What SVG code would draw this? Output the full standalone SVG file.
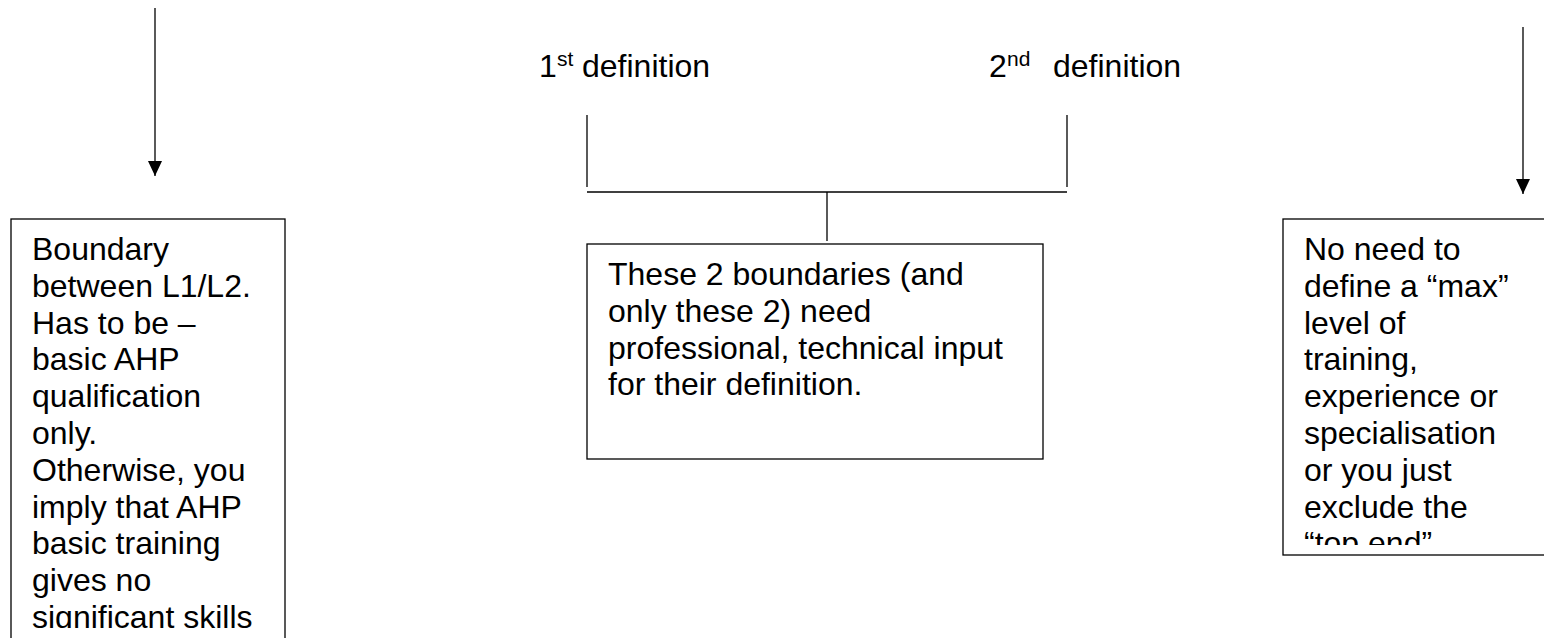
<svg xmlns="http://www.w3.org/2000/svg" width="1544" height="638" viewBox="0 0 1544 638">
  <style>
    .t { font-family: "Liberation Sans", Arial, sans-serif; font-size: 32px; fill: #000; }
    .sup { font-size: 21px; }
    .box { fill: #fff; stroke: #000; stroke-width: 1.3; }
    .ln { fill: none; stroke: #000; stroke-width: 1.3; }
  </style>
  <defs>
    <marker id="arr" viewBox="0 0 15 14" refX="15" refY="7" markerWidth="15" markerHeight="14" markerUnits="userSpaceOnUse" orient="auto">
      <path d="M0,0 L15,7 L0,14 Z" fill="#000"/>
    </marker>
    <clipPath id="clipL"><rect x="12" y="220" width="272" height="408"/></clipPath>
    <clipPath id="clipR"><rect x="1284" y="220" width="260" height="325"/></clipPath>
  </defs>

  <g id="connectors">
    <line class="ln" x1="155" y1="8" x2="155" y2="176" marker-end="url(#arr)"/>
    <line class="ln" x1="1523" y1="27" x2="1523" y2="194" marker-end="url(#arr)"/>
    <line class="ln" x1="587" y1="115" x2="587" y2="187"/>
    <line class="ln" x1="1067" y1="115" x2="1067" y2="187"/>
    <line class="ln" x1="587" y1="192" x2="1067" y2="192"/>
    <line class="ln" x1="827" y1="192" x2="827" y2="241"/>
  </g>

  <g id="label-1st">
    <text class="t" y="77"><tspan x="539">1</tspan><tspan class="sup" x="557" dy="-11">st</tspan><tspan x="582" dy="11">definition</tspan></text>
  </g>
  <g id="label-2nd">
    <text class="t" y="77"><tspan x="989">2</tspan><tspan class="sup" x="1007" dy="-11">nd</tspan><tspan x="1053" dy="11">definition</tspan></text>
  </g>

  <g id="node-left">
    <rect class="box" x="11" y="219" width="274" height="430"/>
    <g clip-path="url(#clipL)">
      <text class="t">
        <tspan x="32" y="260">Boundary</tspan>
        <tspan x="32" y="296.8">between L1/L2.</tspan>
        <tspan x="32" y="333.6">Has to be –</tspan>
        <tspan x="32" y="370.4">basic AHP</tspan>
        <tspan x="32" y="407.2">qualification</tspan>
        <tspan x="32" y="444">only.</tspan>
        <tspan x="32" y="480.8">Otherwise, you</tspan>
        <tspan x="32" y="517.6">imply that AHP</tspan>
        <tspan x="32" y="554.4">basic training</tspan>
        <tspan x="32" y="591.2">gives no</tspan>
        <tspan x="32" y="628">significant skills</tspan>
      </text>
    </g>
  </g>

  <g id="node-center">
    <rect class="box" x="587" y="244" width="456" height="215"/>
    <text class="t">
      <tspan x="608" y="285">These 2 boundaries (and</tspan>
      <tspan x="608" y="321.8">only these 2) need</tspan>
      <tspan x="608" y="358.6">professional, technical input</tspan>
      <tspan x="608" y="395.4">for their definition.</tspan>
    </text>
  </g>

  <g id="node-right">
    <rect class="box" x="1283" y="219" width="280" height="336"/>
    <g clip-path="url(#clipR)">
      <text class="t">
        <tspan x="1304" y="260">No need to</tspan>
        <tspan x="1304" y="296.8">define a “max”</tspan>
        <tspan x="1304" y="333.6">level of</tspan>
        <tspan x="1304" y="370.4">training,</tspan>
        <tspan x="1304" y="407.2">experience or</tspan>
        <tspan x="1304" y="444">specialisation</tspan>
        <tspan x="1304" y="480.8">or you just</tspan>
        <tspan x="1304" y="517.6">exclude the</tspan>
        <tspan x="1304" y="554.4">“top end”</tspan>
      </text>
    </g>
  </g>
</svg>
